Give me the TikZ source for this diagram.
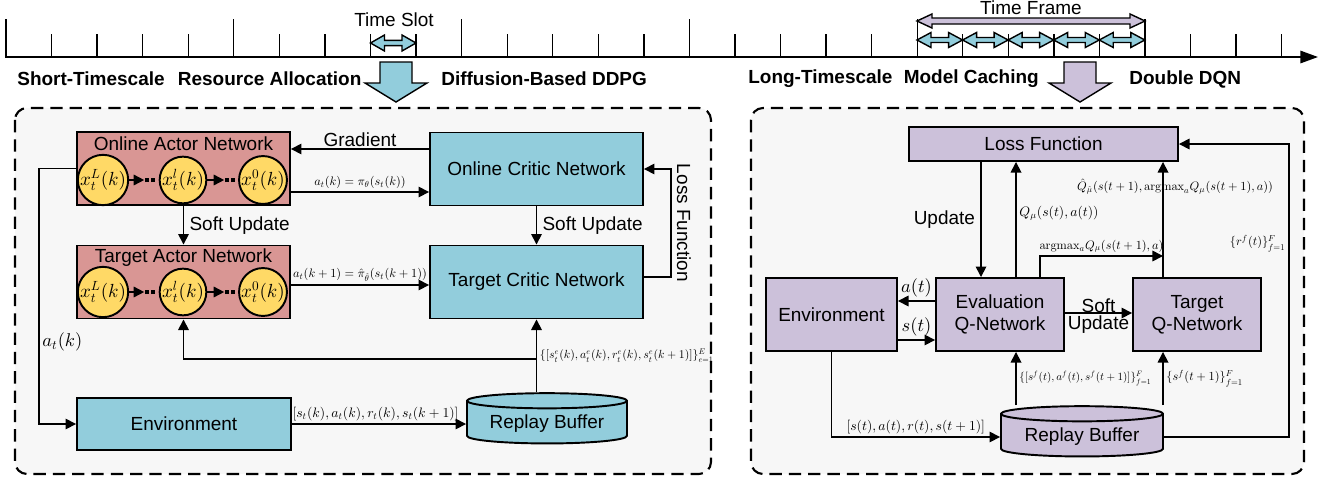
\documentclass[tikz,border=0pt]{standalone}
\usepackage[no-math]{fontspec}
\setmainfont{Liberation Sans}
\usetikzlibrary{arrows.meta,positioning,shapes.geometric,calc}
% one design size of the math fonts, scaled to every size
\DeclareFontShape{OML}{cmm}{m}{it}{<->cmmi10}{}
\DeclareFontShape{OT1}{cmr}{m}{n}{<->cmr10}{}
\DeclareFontShape{OMS}{cmsy}{m}{n}{<->cmsy10}{}

\definecolor{critcyan}{HTML}{92CDDC}
\definecolor{actred}{HTML}{D99694}
\definecolor{stepyel}{HTML}{FFD966}
\definecolor{dqnlilac}{HTML}{CCC1DA}
\definecolor{panelbg}{HTML}{F7F7F7}

\newcommand{\boxfont}{\fontsize{10.8}{12.5}\selectfont}
\newcommand{\twodots}{\rule{2.4pt}{2.4pt}\hspace{1.4pt}\rule{2.4pt}{2.4pt}}
% fat double arrow: colour, x1, x2, y, head length, head half-width, shaft half-width
\newcommand{\dblarrow}[7]{%
  \pgfmathsetmacro{\shaft}{#3-#2-2*#5}
  \filldraw[fill=#1, draw=black, line width=0.8pt]
    (#2,#4) -- ++(#5,-#6) -- ++(0,#6-#7) -- ++(\shaft,0) -- ++(0,#7-#6)
    -- (#3,#4) -- ++(-#5,#6) -- ++(0,#7-#6) -- ++(-\shaft,0) -- ++(0,#6-#7) -- cycle;}
% fat arrow pointing down: colour, centre x
\newcommand{\fatdown}[2]{%
  \filldraw[fill=#1, draw=black, line width=0.8pt]
    (#2-16,62) -- (#2+16,62) -- (#2+16,83) -- (#2+31,83) -- (#2,102)
    -- (#2-31,83) -- (#2-16,83) -- cycle;}

\tikzset{
  box/.style={draw, line width=1.1pt, inner sep=2pt, align=center, font=\boxfont},
  stepnode/.style={circle, draw, line width=1.1pt, fill=stepyel, minimum size=0.92cm, inner sep=0pt, font=\fontsize{10.8}{12}\selectfont},
  buffer/.style={cylinder, shape border rotate=90, aspect=0.12, draw, line width=1.1pt, font=\boxfont},
  conn/.style={->, line width=0.9pt},
  panel/.style={draw, fill=panelbg, line width=1.2pt, dash pattern=on 7pt off 4pt, rounded corners=0.24cm},
  tinylbl/.style={font=\fontsize{7}{8}\selectfont, inner sep=1.5pt},
  midlbl/.style={font=\fontsize{7.8}{9}\selectfont, inner sep=1.5pt},
  biglbl/.style={font=\fontsize{10.5}{12}\selectfont, inner sep=1.5pt},
  txt/.style={font=\boxfont, inner sep=1pt},
  headline/.style={font=\boxfont\bfseries, inner sep=0pt, anchor=west},
}

\begin{document}
\begin{tikzpicture}[x=0.02cm, y=-0.02cm, >={Triangle[length=6pt,width=6pt]}]
\useasboundingbox (0,0) rectangle (1324,480);

% time axis
\draw[line width=1.1pt, -{Triangle[length=10pt,width=7pt]}] (5,57) -- (1318,57);
\foreach \i in {0,...,28}{
  \pgfmathsetmacro{\tx}{6+45.56*\i}
  \pgfmathsetmacro{\ty}{mod(\i,5)==0 ? 19 : 34}
  \draw[line width=0.75pt] (\tx,57) -- (\tx,\ty);
}
\dblarrow{critcyan}{370.5}{416}{43}{14}{8}{2.7}
\node[txt] (slot) at (394,20) {Time Slot};
\dblarrow{dqnlilac}{917}{1145}{21}{15}{7}{3}
\foreach \i in {0,...,4}{
  \pgfmathsetmacro{\ax}{917+45.56*\i}
  \pgfmathsetmacro{\bx}{917+45.56*(\i+1)}
  \dblarrow{critcyan}{\ax}{\bx}{40}{14}{7.5}{2.5}
}
\node[txt] (frame) at (1031,8) {Time Frame};

% scale titles
\node[headline] (short) at (17,79) {Short-Timescale\hspace{0.7em}Resource Allocation};
\node[headline] (ddpg) at (441,79) {Diffusion-Based DDPG};
\node[headline] (long) at (748,79) {Long-Timescale\hspace{0.6em}Model Caching};
\node[headline] (ddqn) at (1129,79) {Double DQN};
\fatdown{critcyan}{396}
\fatdown{dqnlilac}{1080}

% panels
\draw[panel] (15,108) rectangle (711,474);
\draw[panel] (751,108) rectangle (1304,474);

% ---- left: diffusion-based DDPG
\node[box, fill=actred, minimum width=4.26cm, minimum height=1.46cm] (oactor) at (183.5,168.5) {};
\node[txt] (oactortxt) at (183.5,144) {Online Actor Network};
\node[box, fill=actred, minimum width=4.26cm, minimum height=1.46cm] (tactor) at (183.5,282) {};
\node[txt] (tactortxt) at (183.5,258) {Target Actor Network};
\node[box, fill=critcyan, minimum width=4.26cm, minimum height=1.46cm] (ocritic) at (536.5,169) {Online Critic Network};
\node[box, fill=critcyan, minimum width=4.26cm, minimum height=1.46cm] (tcritic) at (536.5,282) {Target Critic Network};
\node[box, fill=critcyan, minimum width=4.28cm, minimum height=1.04cm] (envL) at (184,424) {Environment};
\node[buffer, fill=critcyan, minimum width=3.2cm, minimum height=0.92cm] (rbL) at (547,424) {Replay Buffer};

% denoising steps
\node[stepnode] (xo1) at (103,180) {$x_t^L(k)$};
\node[stepnode] (xo2) at (183,180) {$x_t^l(k)$};
\node[stepnode] (xo3) at (263,180) {$x_t^0(k)$};
\node[inner sep=0pt] (do1) at (150,180) {\twodots};
\node[inner sep=0pt] (do2) at (230,180) {\twodots};
\node[stepnode] (xt1) at (103,292) {$x_t^L(k)$};
\node[stepnode] (xt2) at (183,292) {$x_t^l(k)$};
\node[stepnode] (xt3) at (263,292) {$x_t^0(k)$};
\node[inner sep=0pt] (dt1) at (150,292) {\twodots};
\node[inner sep=0pt] (dt2) at (230,292) {\twodots};
\draw[conn] (xo1) -- (do1);
\draw[conn] (xo2) -- (do2);
\draw[conn] (xt1) -- (dt1);
\draw[conn] (xt2) -- (dt2);

\draw[conn] (ocritic.west |- 0,149) -- node[above, txt] {Gradient} (oactor.east |- 0,149);
\draw[conn] (oactor.east |- 0,192) -- node[above, tinylbl] {$a_t(k)=\pi_{\theta}(s_t(k))$} (ocritic.west |- 0,192);
\draw[conn] (tactor.east |- 0,285) -- node[above, tinylbl] {$a_t(k+1)=\hat{\pi}_{\hat{\theta}}(s_t(k+1))$} (tcritic.west |- 0,285);
\draw[conn] (oactor) -- node[right, txt, inner sep=3pt] {Soft Update} (tactor);
\draw[conn] (ocritic) -- node[right, txt, inner sep=3pt] {Soft Update} (tcritic);
\draw[conn] (tcritic.east |- 0,277) -- ++(27,0) |- node[pos=0.25, rotate=-90, anchor=south, txt, inner sep=3pt] {Loss Function} (ocritic.east);
\draw[conn] (oactor.west) -- ++(-37,0) |- node[pos=0.34, right, biglbl] {$a_t(k)$} (envL.west);
\draw[conn] (envL) -- node[above, midlbl, pos=0.48] {$[s_t(k),a_t(k),r_t(k),s_t(k+1)]$} (rbL);
\draw[conn] (tcritic.south |- rbL.north) -- node[pos=0.5, right, tinylbl, font=\fontsize{6.7}{8}\selectfont] {$\{[s_t^e(k),a_t^e(k),r_t^e(k),s_t^e(k+1)]\}_{e=1}^{E}$} (tcritic.south);
\draw[conn] (tcritic.south |- 0,359) -| (tactor.south);

% ---- right: double DQN
\node[box, fill=dqnlilac, minimum width=5.38cm, minimum height=0.68cm] (loss) at (1043.5,144) {Loss Function};
\node[box, fill=dqnlilac, minimum width=2.62cm, minimum height=1.46cm] (envR) at (831.5,314.5) {Environment};
\node[box, fill=dqnlilac, minimum width=2.56cm, minimum height=1.46cm] (evalq) at (1000,314.5) {Evaluation\\Q-Network};
\node[box, fill=dqnlilac, minimum width=2.56cm, minimum height=1.46cm] (targq) at (1197,314.5) {Target\\Q-Network};
\node[buffer, fill=dqnlilac, minimum width=3.24cm, minimum height=0.92cm] (rbR) at (1082,437) {Replay Buffer};
\coordinate (amx) at (1163,256);

\draw[conn] (loss.south -| 981,0) -- node[left, txt, inner sep=3pt] {Update} (evalq.north -| 981,0);
\draw[conn] (evalq.north -| 1016,0) -- node[pos=0.55, right, midlbl] {$Q_{\mu}(s(t),a(t))$} (loss.south -| 1016,0);
\draw[conn] (evalq.north -| 1040,0) |- node[pos=0.75, above, tinylbl] {$\mathrm{argmax}_a Q_{\mu}(s(t+1),a)$} (amx);
\draw[conn] (targq.north -| amx) -- node[pos=0.79, xshift=0.24cm, tinylbl] {$\hat{Q}_{\hat{\mu}}(s(t+1),\mathrm{argmax}_a Q_{\mu}(s(t+1),a))$} (loss.south -| amx);
\draw[conn] (rbR.east) -- ++(125,0) |- node[pos=0.33, left, tinylbl] {$\{r^f(t)\}_{f=1}^{F}$} (loss.east);
\draw[conn] (evalq.west |- 0,301) -- node[above, biglbl] {$a(t)$} (envR.east |- 0,301);
\draw[conn] (envR.east |- 0,340) -- node[above, biglbl] {$s(t)$} (evalq.west |- 0,340);
\draw[conn] (evalq.east |- 0,313) -- node[above, txt, inner sep=0pt] {Soft} node[below, txt, inner sep=1pt] {Update} (targq.west |- 0,313);
\draw[conn] (envR.south) |- node[pos=0.75, above, midlbl] {$[s(t),a(t),r(t),s(t+1)]$} (rbR.west);
\draw[conn] (rbR.north -| 1016,0) -- node[right, tinylbl, font=\fontsize{6.3}{7.5}\selectfont] {$\{[s^f(t),a^f(t),s^f(t+1)]\}_{f=1}^{F}$} (evalq.south -| 1016,0);
\draw[conn] (rbR.north -| amx) -- node[right, tinylbl] {$\{s^f(t+1)\}_{f=1}^{F}$} (targq.south -| amx);
\end{tikzpicture}
\end{document}
